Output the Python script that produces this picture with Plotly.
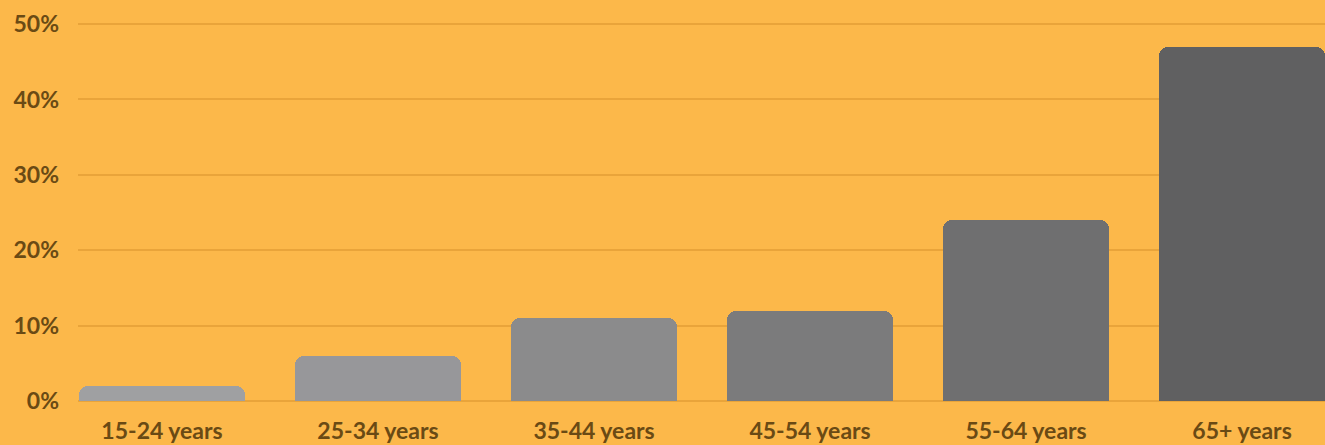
import plotly.graph_objects as go

age_groups = ["15-24 years", "25-34 years", "35-44 years", "45-54 years", "55-64 years", "65+ years"]
share_pct = [2, 6, 11, 12, 24, 47]
bar_colors = ["#9fa0a2", "#97979a", "#8b8b8c", "#7b7b7c", "#6f6f70", "#606061"]
y_ticks = [0, 10, 20, 30, 40, 50]

bg = "#fcb84a"
grid = "#e9a43a"
text_col = "#6a4a14"

fig = go.Figure(
    go.Bar(
        x=list(range(len(age_groups))),
        y=share_pct,
        width=0.765,
        marker=dict(color=bar_colors, cornerradius=9, line=dict(width=0)),
        hoverinfo="skip",
    )
)

fig.update_layout(
    width=1325,
    height=445,
    margin=dict(l=78, r=0, t=9, b=44),
    paper_bgcolor=bg,
    plot_bgcolor=bg,
    showlegend=False,
    font=dict(family="Lato", color=text_col, size=22, weight="bold"),
    bargap=0,
)

fig.update_xaxes(
    range=[-0.389, 5.384],
    tickmode="array",
    tickvals=list(range(len(age_groups))),
    ticktext=age_groups,
    showgrid=False,
    zeroline=False,
    showline=False,
    ticks="",
    ticklabelstandoff=14,
    tickfont=dict(size=23, color=text_col, weight="bold"),
)

fig.update_yaxes(
    range=[0, 52],
    tickmode="array",
    tickvals=y_ticks,
    ticktext=[f"{v}%" for v in y_ticks],
    showgrid=True,
    gridcolor=grid,
    gridwidth=2,
    zeroline=True,
    zerolinecolor=grid,
    zerolinewidth=2,
    showline=False,
    ticks="",
    ticklabelstandoff=18,
    tickfont=dict(size=23, color=text_col, weight="bold"),
)

fig.write_html("out.html")
